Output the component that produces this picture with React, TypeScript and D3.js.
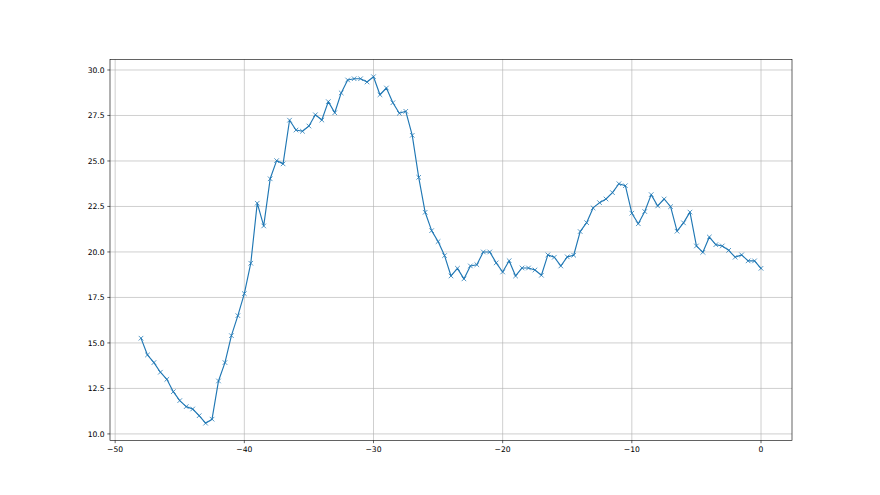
import React from "react";
import * as d3 from "d3";

const xValues: number[] = [
  -48, -47.5, -47, -46.5, -46, -45.5, -45, -44.5, -44, -43.5, -43, -42.5, -42, -41.5, -41, -40.5,
  -40, -39.5, -39, -38.5, -38, -37.5, -37, -36.5, -36, -35.5, -35, -34.5, -34, -33.5, -33, -32.5,
  -32, -31.5, -31, -30.5, -30, -29.5, -29, -28.5, -28, -27.5, -27, -26.5, -26, -25.5, -25, -24.5,
  -24, -23.5, -23, -22.5, -22, -21.5, -21, -20.5, -20, -19.5, -19, -18.5, -18, -17.5, -17, -16.5,
  -16, -15.5, -15, -14.5, -14, -13.5, -13, -12.5, -12, -11.5, -11, -10.5, -10, -9.5, -9, -8.5,
  -8, -7.5, -7, -6.5, -6, -5.5, -5, -4.5, -4, -3.5, -3, -2.5, -2, -1.5, -1, -0.5, 0,
];

const yValues: number[] = [
  15.26, 14.34, 13.92, 13.39, 13.0, 12.32, 11.83, 11.5, 11.37, 11.0, 10.59, 10.81, 12.91, 13.92, 15.4, 16.5,
  17.71, 19.38, 22.68, 21.43, 24.02, 25.02, 24.84, 27.24, 26.7, 26.63, 26.92, 27.54, 27.25, 28.26, 27.65, 28.74,
  29.45, 29.52, 29.52, 29.34, 29.63, 28.64, 29.01, 28.2, 27.62, 27.73, 26.41, 24.1, 22.18, 21.17, 20.57, 19.8,
  18.68, 19.1, 18.52, 19.23, 19.3, 20.0, 20.0, 19.4, 18.9, 19.52, 18.68, 19.12, 19.12, 19.01, 18.72, 19.84,
  19.71, 19.23, 19.73, 19.82, 21.12, 21.61, 22.42, 22.71, 22.91, 23.26, 23.75, 23.64, 22.13, 21.55, 22.22, 23.15,
  22.53, 22.91, 22.49, 21.14, 21.6, 22.19, 20.33, 19.98, 20.82, 20.4, 20.33, 20.09, 19.71, 19.84, 19.51, 19.51,
  19.1,
];

const xTicks: number[] = [-50, -40, -30, -20, -10, 0];
const yTicks: number[] = [10, 12.5, 15, 17.5, 20, 22.5, 25, 27.5, 30];

const W = 880;
const H = 495;
const LEFT = 110;
const RIGHT = 792;
const TOP = 59.4;
const BOTTOM = 440.5;
const PT = 55 / 72;
const COLOR = "#1f77b4";
const FONT = "'DejaVu Sans', sans-serif";

function pad(ext: [number, number]): [number, number] {
  const m = (ext[1] - ext[0]) * 0.05;
  return [ext[0] - m, ext[1] + m];
}

export default function App() {
  const x = d3.scaleLinear().domain(pad(d3.extent(xValues) as [number, number])).range([LEFT, RIGHT]);
  const y = d3.scaleLinear().domain(pad(d3.extent(yValues) as [number, number])).range([BOTTOM, TOP]);
  const pts = xValues.map((v, i) => [x(v), y(yValues[i])] as [number, number]);
  const line = d3.line()(pts) || "";
  const tickLen = 3.5 * PT;
  const tickPad = 3.5 * PT;
  const fs = 10 * PT;
  const ms = (6 * PT) / 2;
  const fmtX = (v: number) => (v < 0 ? "\u2212" + Math.abs(v) : String(v));
  return (
    <svg width={W} height={H} style={{ position: "absolute", left: 0, top: 0, background: "#fff" }}>
      <rect x={0} y={0} width={W} height={H} fill="#fff" />
      {xTicks.map((t) => (
        <line key={"gx" + t} x1={x(t)} x2={x(t)} y1={TOP} y2={BOTTOM} stroke="#b0b0b0" strokeWidth={0.8 * PT} />
      ))}
      {yTicks.map((t) => (
        <line key={"gy" + t} x1={LEFT} x2={RIGHT} y1={y(t)} y2={y(t)} stroke="#b0b0b0" strokeWidth={0.8 * PT} />
      ))}
      <path d={line} fill="none" stroke={COLOR} strokeWidth={1.5 * PT} strokeLinejoin="round" strokeLinecap="square" />
      {pts.map(([px, py], i) => (
        <path
          key={"m" + i}
          d={`M${px - ms},${py - ms}L${px + ms},${py + ms}M${px - ms},${py + ms}L${px + ms},${py - ms}`}
          stroke={COLOR}
          strokeWidth={1 * PT}
          fill="none"
        />
      ))}
      <rect x={LEFT} y={TOP} width={RIGHT - LEFT} height={BOTTOM - TOP} fill="none" stroke="#000" strokeWidth={0.8 * PT} />
      {xTicks.map((t) => (
        <g key={"tx" + t}>
          <line x1={x(t)} x2={x(t)} y1={BOTTOM} y2={BOTTOM + tickLen} stroke="#000" strokeWidth={0.8 * PT} />
          <text x={x(t)} y={BOTTOM + tickLen + tickPad} dy="0.8em" textAnchor="middle" fontSize={fs} fontFamily={FONT} fill="#000">
            {fmtX(t)}
          </text>
        </g>
      ))}
      {yTicks.map((t) => (
        <g key={"ty" + t}>
          <line x1={LEFT - tickLen} x2={LEFT} y1={y(t)} y2={y(t)} stroke="#000" strokeWidth={0.8 * PT} />
          <text x={LEFT - tickLen - tickPad} y={y(t)} dy="0.35em" textAnchor="end" fontSize={fs} fontFamily={FONT} fill="#000">
            {t.toFixed(1)}
          </text>
        </g>
      ))}
    </svg>
  );
}
